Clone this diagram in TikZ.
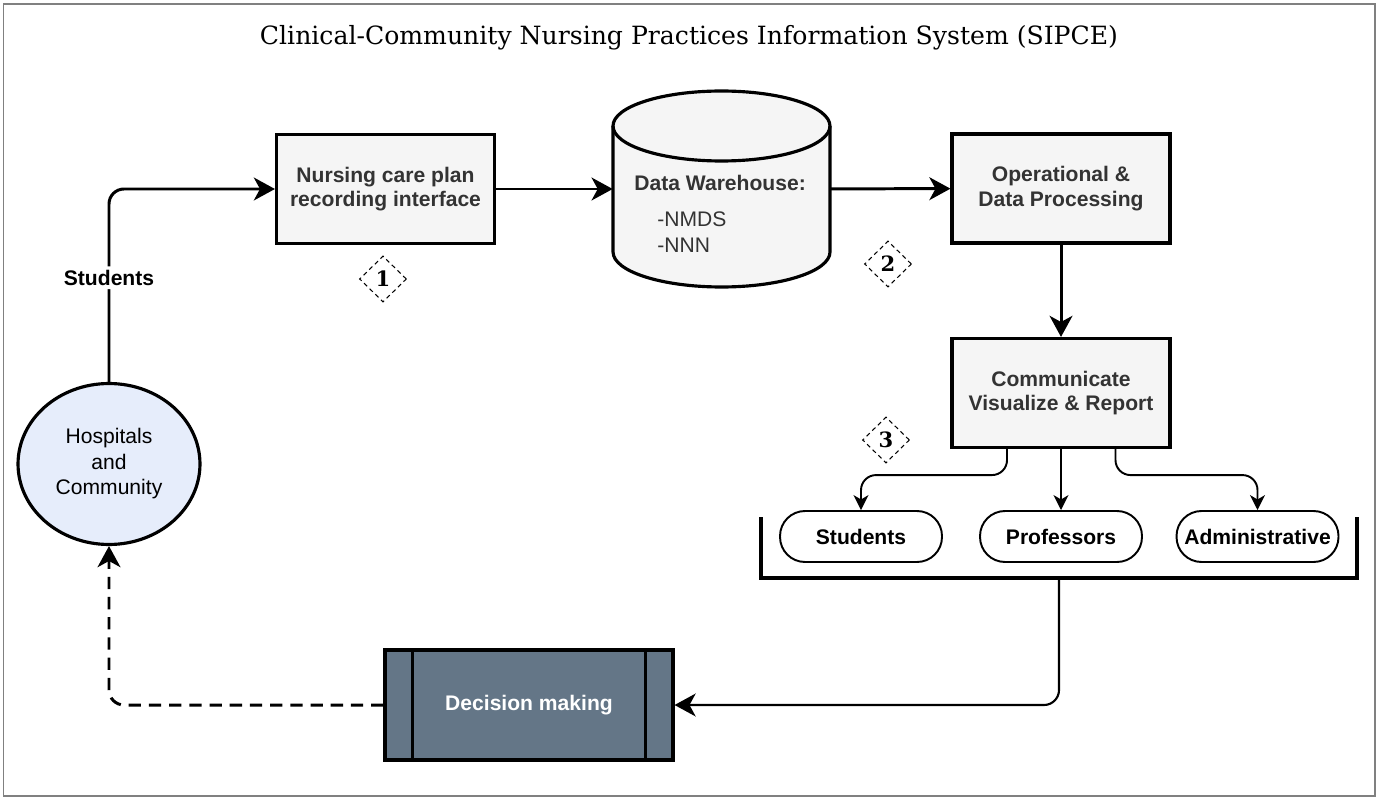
\documentclass[tikz,border=0pt]{standalone}
\usepackage{fontspec}
\setmainfont{Liberation Sans}
\newfontfamily\serifnum{DejaVu Serif}
\usetikzlibrary{shapes.geometric,arrows.meta}
\definecolor{boxgray}{HTML}{F5F5F5}
\definecolor{txtgray}{HTML}{333333}
\definecolor{dmblue}{HTML}{647687}
\definecolor{hospblue}{HTML}{E6EDFB}
\definecolor{framegray}{HTML}{808080}

\begin{document}
\begin{tikzpicture}
  [x=0.02cm,y=-0.02cm,
   every node/.style={font=\fontsize{12}{14.5}\selectfont},
   procbox/.style={draw,line width=1.8pt,fill=boxgray,text=txtgray,align=center,
     font=\fontsize{12}{14}\selectfont\bfseries,minimum width=4.36cm,minimum height=2.18cm},
   pill/.style={draw,line width=1.1pt,rounded corners=0.5cm,fill=white,
     font=\fontsize{12}{14}\selectfont\bfseries,minimum width=3.24cm,minimum height=1.02cm},
   numtag/.style={diamond,draw,dashed,dash pattern=on 2.5pt off 2pt,line width=0.6pt,
     minimum width=0.94cm,minimum height=0.92cm,inner sep=0pt,
     font=\serifnum\bfseries\fontsize{12}{14}\selectfont},
   arr/.style={line width=1.7pt,-{Stealth[length=12pt,width=13pt,inset=3.5pt]}},
   thinarr/.style={line width=1.1pt,-{Stealth[length=8.5pt,width=8.5pt,inset=2.5pt]}}]
  \useasboundingbox (0,0) rectangle (1378,800);
  \draw[framegray,line width=1.1pt] (3.5,4) rectangle (1375,796);

  \node[font=\serifnum\fontsize{14.3}{17}\selectfont] (title) at (689,38)
    {Clinical-Community Nursing Practices Information System (SIPCE)};

  % main chain
  \node[procbox] (nci) at (385.5,189) {Nursing care plan\\recording interface};
  \node[minimum width=4.34cm,minimum height=3.92cm] (dw) at (721.5,189) {};
  \draw[line width=1.8pt,fill=boxgray] (613,126)
    arc[start angle=180,end angle=0,x radius=2.17cm,y radius=0.7cm] -- (830,252)
    arc[start angle=0,end angle=-180,x radius=2.17cm,y radius=0.7cm] -- cycle;
  \draw[line width=1.8pt] (613,126) arc[start angle=180,end angle=360,x radius=2.17cm,y radius=0.7cm];
  \node[anchor=base west,inner sep=0pt,text=txtgray,font=\fontsize{12}{14}\selectfont\bfseries] (dwhead) at (634,191) {Data Warehouse:};
  \node[anchor=base west,inner sep=0pt,text=txtgray,align=left,font=\fontsize{12}{15.1}\selectfont] (dwlist) at (657,253) {-NMDS\\-NNN};
  \node[procbox] (odp) at (1061,188.5) {Operational \&\\Data Processing};
  \node[procbox] (cvr) at (1061,393) {Communicate\\Visualize \& Report};

  % audience
  \node[pill] (pstud) at (861,536.5) {Students};
  \node[pill] (pprof) at (1061,536.5) {Professors};
  \node[pill] (padm) at (1257.5,536.5) {Administrative};
  \draw[line width=1.8pt] (761,517) -- (761,578) -- (1357,578) -- (1357,517);
  \coordinate (brk) at (1059,578);

  \node[ellipse,draw,line width=1.8pt,fill=hospblue,align=center,
    minimum width=3.64cm,minimum height=3.22cm] (hosp) at (109,464) {Hospitals\\and\\Community};
  \node[draw,line width=1.8pt,fill=dmblue,text=white,font=\fontsize{12}{14}\selectfont\bfseries,
    minimum width=5.76cm,minimum height=2.2cm] (dm) at (529,705) {Decision making};
  \draw[line width=1.8pt] ([xshift=0.58cm]dm.north west) -- ([xshift=0.58cm]dm.south west)
    ([xshift=-0.58cm]dm.north east) -- ([xshift=-0.58cm]dm.south east);

  % step tags
  \node[numtag] (n1) at (383,279) {1};
  \node[numtag] (n2) at (888,264) {2};
  \node[numtag] (n3) at (886,440) {3};

  % connectors
  \draw[arr,rounded corners=0.3cm] (hosp.north) |- node[pos=0.27,fill=white,inner sep=2pt,
    font=\fontsize{12}{14}\selectfont\bfseries] {Students} (nci.west);
  \foreach \from/\to in {nci/dw,dw/odp,odp/cvr}
    \draw[arr] (\from) -- (\to);
  \draw[thinarr,rounded corners=0.3cm] ([xshift=-1.08cm]cvr.south) -- ++(0,26) -| (pstud.north);
  \draw[thinarr] (cvr) -- (pprof);
  \draw[thinarr,rounded corners=0.3cm] ([xshift=1.09cm]cvr.south) -- ++(0,26) -| (padm.north);
  \draw[arr,line width=1.2pt,rounded corners=0.3cm] (brk) |- (dm.east);
  \draw[arr,dash pattern=on 7pt off 4.5pt,rounded corners=0.3cm] (dm.west) -| (hosp.south);

\end{tikzpicture}
\end{document}
